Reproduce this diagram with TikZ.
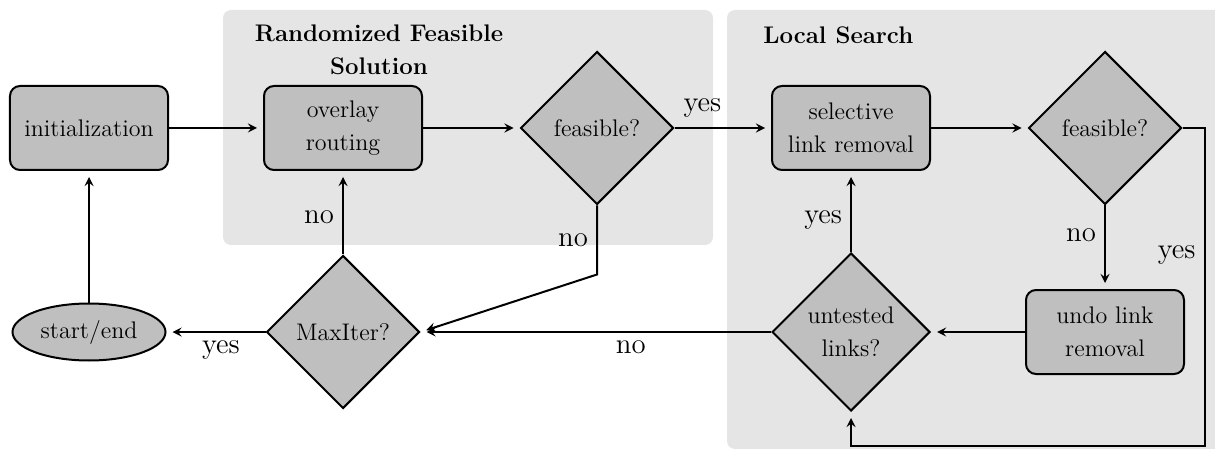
\documentclass[tikz,border=0pt,12pt]{standalone}
\usepackage{amssymb}
\usepackage{amsmath}
\usepackage{tikz}
\usetikzlibrary{shapes.geometric, positioning, arrows}

\tikzset{
  stepbox/.style={draw, line width=1pt, fill=gray!50, rounded corners=5pt,
    minimum width=79pt, minimum height=42pt, align=center,
    font=\linespread{1.14}\selectfont},
  decision/.style={draw, line width=1pt, fill=gray!50, diamond, aspect=1,
    inner sep=0pt, minimum width=76.5pt, minimum height=76.5pt,
    align=center, font=\linespread{1.14}\selectfont},
  terminal/.style={draw, line width=1pt, fill=gray!50, ellipse, inner sep=0pt,
    minimum width=76.5pt, minimum height=28.5pt},
  flow/.style={-stealth, line width=1pt, shorten >=3pt, nodes={font=\large}},
  panel/.style={fill=gray!20, rounded corners=4pt},
  paneltitle/.style={font=\linespread{1.14}\selectfont\bfseries,
    align=center, inner sep=0pt}
}

\begin{document}
\begin{tikzpicture}[node distance=102pt and 127pt, on grid]
    \useasboundingbox (-44.5pt,64pt) rectangle (563pt,-160.5pt);

    % panels
    \fill [panel] (67pt,59pt) rectangle (312pt,-58.5pt);%
    \fill [panel] (319pt,59pt) rectangle (575pt,-160.5pt);%
    \node [paneltitle, anchor=north] (RandTitle) at (145pt,51.8pt)
    {Randomized Feasible\\Solution};%
    \node [paneltitle, anchor=north west] (LocalTitle) at (337pt,50.8pt)
    {Local Search};%

    % upper row
    \node [stepbox] (init) {initialization};%
    \node [stepbox, right=of init] (overlay) {overlay\\routing};%
    \node [decision, right=of overlay] (feas1) {feasible?};%
    \node [stepbox, right=of feas1] (select) {selective\\link removal};%
    \node [decision, right=of select] (feas2) {feasible?};%

    % lower row
    \node [terminal, below=of init] (start) {start/end};%
    \node [decision, below=of overlay] (maxiter) {MaxIter?};%
    \node [decision, below=of select, minimum width=79pt,
    minimum height=79pt] (untested) {untested\\links?};%
    \node [stepbox, below=of feas2] (undo) {undo link\\removal};%

    % arrows
    \draw [flow] (init.east) -- (overlay.west);%
    \draw [flow] (overlay.east) -- (feas1.west);%
    \draw [flow] (feas1.east) node [above right, yshift=1pt] {yes} --
    (select.west);%
    \draw [flow] (select.east) -- (feas2.west);%
    \draw [flow] (feas2.south) -- node [left, pos=0.35] {no} (undo.north);%
    \draw [flow] (feas2.east) -| ([xshift=11pt, yshift=-17pt]feas2.east |-
    untested.south) node [left, pos=0.7] {yes} -| (untested.south);%
    \draw [flow] (undo.west) -- (untested.east);%
    \draw [flow] (untested.north) -- node [left, pos=0.4] {yes}
    (select.south);%
    \draw [flow] (untested.west) -- node [below, pos=0.4] {no}
    (maxiter.east);%
    \draw [flow] (feas1.south) -- node [left, pos=0.5] {no}
    ++(0,-34.5pt) -- (maxiter.east);%
    \draw [flow] (maxiter.north) -- node [left, pos=0.45] {no}
    (overlay.south);%
    \draw [flow] (maxiter.west) -- node [below, pos=0.45] {yes}
    (start.east);%
    \draw [flow] (start.north) -- (init.south);%
\end{tikzpicture}
\end{document}
